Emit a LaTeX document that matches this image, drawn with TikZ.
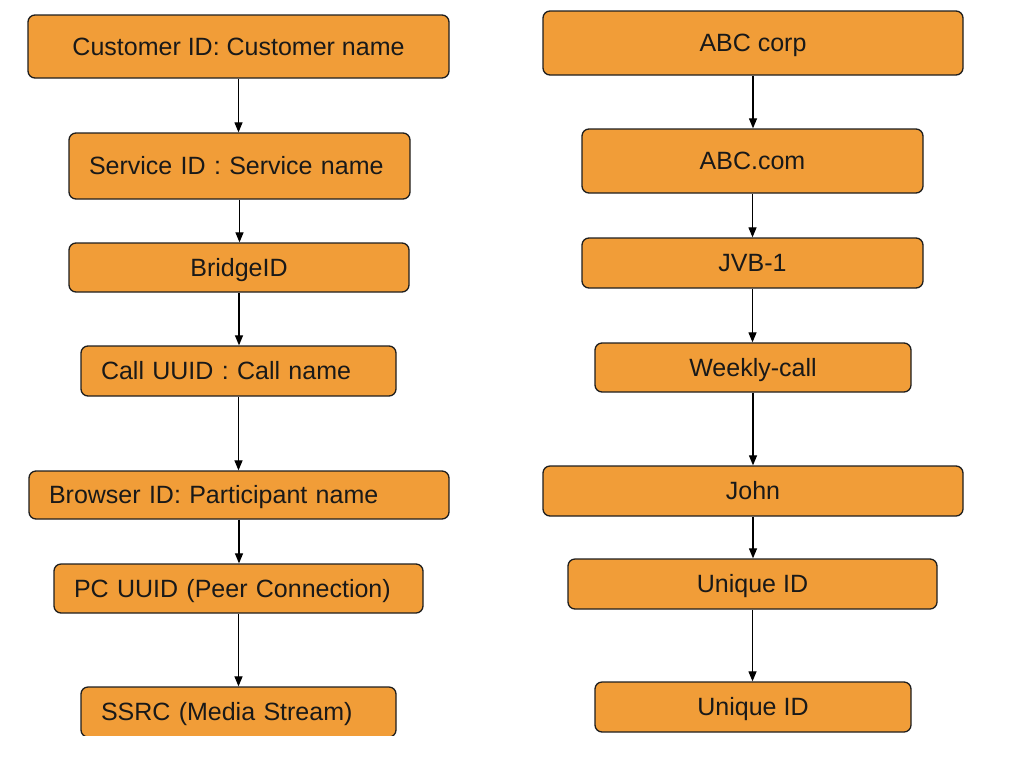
\documentclass[tikz,border=0pt]{standalone}
\usepackage{fontspec}
\setmainfont{Liberation Sans}
\usetikzlibrary{arrows.meta}
\definecolor{boxorange}{RGB}{241,157,56}
\definecolor{boxline}{RGB}{30,30,30}
\tikzset{
  box/.style={draw=boxline, fill=boxorange, line width=1.3pt, rounded corners=7pt,
    font=\fontsize{25}{30}\selectfont, inner ysep=0pt, text=black!90,
    text height=17.9pt, text depth=0pt},
  cbox/.style={box, align=center, inner xsep=0pt},
  lbox/.style={box, align=left, inner xsep=20pt},
  arr/.style={draw=black, line width=1.2pt, -{Triangle[length=10pt,width=8pt]}}
}
\begin{document}
\begin{tikzpicture}[x=1pt,y=-1pt]
\useasboundingbox (0,0) rectangle (1014,772);
% left column
\node[cbox, minimum width=421pt, minimum height=63pt] (c1) at (238.5,46.5) {Customer ID: Customer name};
\node[lbox, text width=301pt, minimum height=66pt] (c2) at (239.5,166) {Service ID : Service name};
\node[cbox, minimum width=340pt, minimum height=49pt] (c3) at (239,267.5) {BridgeID};
\node[lbox, text width=275pt, minimum height=50pt] (c4) at (238.5,371) {Call UUID : Call name};
\node[lbox, text width=380pt, minimum height=48pt] (c5) at (239,495) {Browser ID: Participant name};
\node[lbox, text width=329pt, minimum height=49pt] (c6) at (238.5,588.5) {PC UUID (Peer Connection)};
\begin{scope}
\clip (0,0) rectangle (1014,735.5);
\node[lbox, text width=275pt, minimum height=50pt] (c7) at (238.5,712) {SSRC (Media Stream)};
\end{scope}
% right column
\node[cbox, minimum width=420pt, minimum height=64pt] (r1) at (753,43) {ABC corp};
\node[cbox, minimum width=341pt, minimum height=64pt] (r2) at (752.5,161) {ABC.com};
\node[cbox, minimum width=341pt, minimum height=50pt] (r3) at (752.5,263) {JVB-1};
\node[cbox, minimum width=316pt, minimum height=49pt] (r4) at (753,367.5) {Weekly-call};
\node[cbox, minimum width=420pt, minimum height=50pt] (r5) at (753,491) {John};
\node[cbox, minimum width=369pt, minimum height=50pt] (r6) at (752.5,584) {Unique ID};
\node[cbox, minimum width=316pt, minimum height=50pt] (r7) at (753,707) {Unique ID};
% connectors
\foreach \a/\b in {c1/c2,c2/c3,c3/c4,c4/c5,c5/c6,c6/c7,r1/r2,r2/r3,r3/r4,r4/r5,r5/r6,r6/r7}
  \draw[arr] (\a.south) -- (\a.south |- \b.north);
\end{tikzpicture}
\end{document}
